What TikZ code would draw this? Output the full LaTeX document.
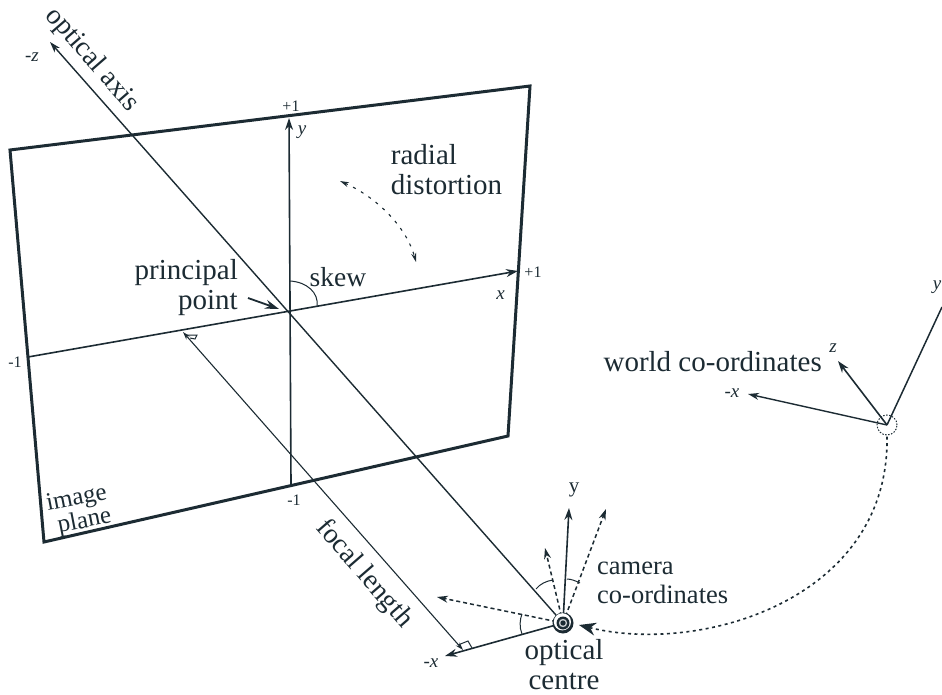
\documentclass[tikz,border=0pt]{standalone}
\usepackage{fontspec}
\setmainfont{Liberation Serif}
\usetikzlibrary{arrows.meta}
\definecolor{ink}{HTML}{1C2B33}
\tikzset{
 lab/.style={font=\fontsize{29}{30}\selectfont,align=center,text=ink,inner sep=0pt},
 sm/.style={font=\fontsize{19}{20}\selectfont\itshape,text=ink,inner sep=0pt},
 smr/.style={font=\fontsize{16}{18}\selectfont,text=ink,inner sep=0pt},
 ax/.style={draw=ink,line width=1.6pt,-{Stealth[length=12pt,width=8pt]}},
 axn/.style={draw=ink,line width=1.4pt,-{Stealth[length=11pt,width=7pt]}},
 dsh/.style={draw=ink,line width=1.5pt,dash pattern=on 4pt off 3pt,-{Stealth[length=11pt,width=7pt]}},
 thin arc/.style={draw=ink,line width=1pt},
 plane/.style={draw=ink,line width=3pt,line join=miter}
}
\begin{document}
\begin{tikzpicture}[x=1pt,y=-1pt]
\useasboundingbox (0,0) rectangle (942,695);
\coordinate (pa) at (10,150);\coordinate (pb) at (530,86);\coordinate (pc) at (508,436);\coordinate (pd) at (44,542);
\draw[plane] (pa)--(pb)--(pc)--(pd)--cycle;
\coordinate (oc) at (563,623);
\coordinate (wo) at (887,425);
\coordinate (yb) at (291,484);\coordinate (yt) at (289,118);
\coordinate (xl) at (28,357);\coordinate (xr) at (518,271);
\coordinate (zt) at (50,42);
\draw[ax] (yb)--(yt);
\draw[ax] (xl)--(xr);
\draw[axn] (oc)--(zt);
% focal length
\coordinate (fa) at (463,650);\coordinate (fb) at (183,332);
\draw[draw=ink,line width=1.1pt,{Stealth[length=8pt,width=5pt]}-{Stealth[length=8pt,width=5pt]}] (fa)--(fb);
\draw[thin arc] (187,335)--(197,335)--(195,339)--(190,338);
\draw[thin arc] (458,645)--(468,641)--(472,648);
% camera axes
\coordinate (cx) at (445,656);\coordinate (cy) at (569,508);\coordinate (d1) at (606,509);\coordinate (d2) at (545,548);\coordinate (d3) at (437,597);
\draw[ax] (oc)--(cx);
\draw[ax] (oc)--(cy);
\draw[dsh] (oc)--(d1);
\draw[dsh] (oc)--(d2);
\draw[dsh] (oc)--(d3);
\draw[thin arc] (522,634) .. controls (519,627) and (520,619) .. (522,614);
\draw[thin arc] (536,589) .. controls (540,584) and (546,581) .. (553,580);
\draw[thin arc] (567,579) .. controls (571,579) and (576,581) .. (580,583);
% optical centre
\node[circle,fill=ink,minimum size=21pt,inner sep=0pt] (ocm) at (oc) {};
\fill[white] ([shift={(-0.6,-1.2)}]oc) circle (8.6pt);
\fill[ink] (oc) circle (6.5pt);
\fill[white!75!ink] (oc) circle (4.2pt);
\fill[ink] (oc) circle (2.6pt);
% skew
\draw[thin arc] (290,281) .. controls (307,282) and (319,293) .. (317,306);
% principal arrow
\coordinate (ps) at (248,298);\coordinate (pe) at (279,309);
\draw[ink,line width=1.8pt,-{Stealth[length=14pt,width=9pt]}] (ps)--(pe);
% radial
\coordinate (r1) at (340,181);\coordinate (r2) at (416,262);
\draw[draw=ink,line width=1.1pt,dash pattern=on 3pt off 6pt,{Stealth[length=9pt,width=5pt]}-{Stealth[length=9pt,width=5pt]}] (r1) .. controls (376,197) and (406,226) .. (r2);
% world
\draw[draw=ink,line width=1.5pt] (wo)--(942,307);
\coordinate (wz) at (838,361);\coordinate (wx) at (748,394);
\draw[ax] (wo)--(wz);
\draw[axn] (wo)--(wx);
\draw[ink,line width=1pt,dash pattern=on 1.5pt off 1.5pt] (wo) circle (10pt);
% curve
\coordinate (ca) at (579,625);
\draw[ink,line width=1.6pt,dash pattern=on 3pt off 3.5pt,{Stealth[length=17pt,width=13pt]}-] (ca) .. controls (700,655) and (890,600) .. (887,436);
% labels
\node[lab,rotate=-49,font=\fontsize{28}{30}\selectfont] (t1) at (92,60) {optical axis};
\node[lab,rotate=-49,font=\fontsize{28}{30}\selectfont] (t2) at (364,574) {focal length};
\node[lab,align=left] (t3) at (446.5,170) {radial\\distortion};
\node[lab,align=right,anchor=east] (t4) at (238,288) {principal\\point};
\node[lab,font=\fontsize{27.5}{30}\selectfont] (t5) at (338,277) {skew};
\node[lab,anchor=east] (t6) at (822,362) {world co-ordinates};
\node[lab,align=left,anchor=west,font=\fontsize{26.5}{29}\selectfont] (t7) at (597,583) {camera\\co-ordinates};
\node[lab] (t8) at (564,665) {optical\\centre};
\node[lab,rotate=11,font=\fontsize{25}{24}\selectfont,align=right] (t9) at (79,511) {image\\plane};
\node[sm] at (32,57) {-z};
\node[sm] at (302,132) {y};
\node[smr] at (291,106) {+1};
\node[smr] at (533,272) {+1};
\node[sm] at (500.5,295) {x};
\node[smr] at (15,362) {-1};
\node[smr] at (294,500) {-1};
\node[smr,font=\fontsize{21}{22}\selectfont] at (574,490) {y};
\node[sm] at (431,663) {-x};
\node[sm] at (732,393) {-x};
\node[sm] at (833,348) {z};
\node[sm] at (937,287) {y};
\end{tikzpicture}
\end{document}
